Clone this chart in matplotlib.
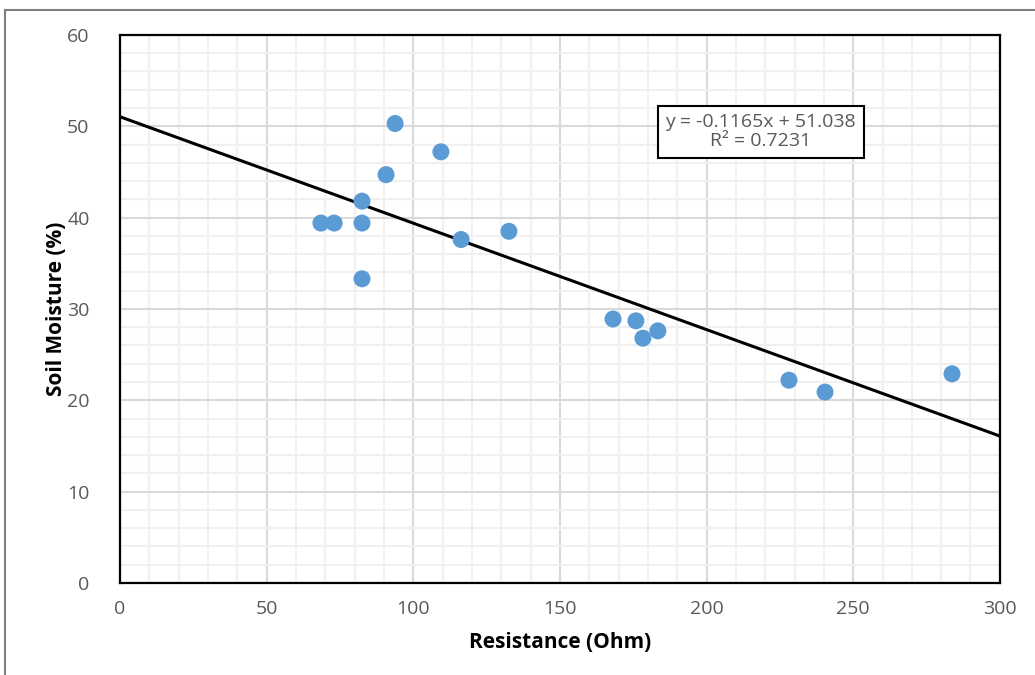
import numpy as np
import matplotlib
matplotlib.use("Agg")
import matplotlib.pyplot as plt
from matplotlib.lines import Line2D

resistance = [68.5, 73.0, 82.5, 82.5, 82.5, 90.7, 93.8, 109.4, 116.3, 132.6,
              168.1, 175.9, 178.3, 183.4, 228.1, 240.4, 283.7]
moisture = [39.4, 39.4, 41.8, 39.4, 33.3, 44.7, 50.3, 47.2, 37.6, 38.5,
            28.9, 28.7, 26.8, 27.6, 22.2, 20.9, 22.9]
slope = -0.1165
intercept = 51.038
eq_text = "y = -0.1165x + 51.038\nR² = 0.7231"

plt.rcParams['font.family'] = ['Open Sans', 'DejaVu Sans']

fig = plt.figure(figsize=(10.35, 6.75), dpi=100)
ax = fig.add_axes([0.116, 0.1363, 0.85, 0.812])

# outer frame of the picture (top and left edges only)
fig.lines.append(Line2D([0.005, 1.0], [0.985, 0.985], transform=fig.transFigure,
                        color='#7f7f7f', linewidth=1.5))
fig.lines.append(Line2D([0.005, 0.005], [0.0, 0.985], transform=fig.transFigure,
                        color='#7f7f7f', linewidth=1.5))

xs = np.array([0, 300])
ax.plot(xs, slope * xs + intercept, color='black', linewidth=2.2, zorder=3)
ax.scatter(resistance, moisture, s=150, color='#5b9bd5', edgecolors='none', zorder=4)

ax.set_xlim(0, 300)
ax.set_ylim(0, 60)
ax.set_xticks(np.arange(0, 301, 50))
ax.set_yticks(np.arange(0, 61, 10))
ax.set_xticks(np.arange(0, 301, 10), minor=True)
ax.set_yticks(np.arange(0, 61, 2), minor=True)
ax.grid(which='major', color='#d9d9d9', linewidth=1.5)
ax.grid(which='minor', color='#f0f0f0', linewidth=1.5)
ax.set_axisbelow(True)
ax.tick_params(which='both', length=0)
ax.tick_params(labelsize=14, labelcolor='#595959')
ax.tick_params(axis='y', pad=22)
ax.tick_params(axis='x', pad=12)
for s in ax.spines.values():
    s.set_linewidth(1.6)
    s.set_color('black')

ax.set_xlabel("Resistance (Ohm)", fontsize=15, fontweight='bold', labelpad=10)
ax.set_ylabel("Soil Moisture (%)", fontsize=15, fontweight='bold', labelpad=0)

ax.text(218.5, 49.4, eq_text, ha='center', va='center', fontsize=14, color='#595959',
        linespacing=1.05, zorder=5,
        bbox=dict(boxstyle='square,pad=0.4', facecolor='white', edgecolor='black', linewidth=1.5))

fig.savefig("out.png", dpi=100)
